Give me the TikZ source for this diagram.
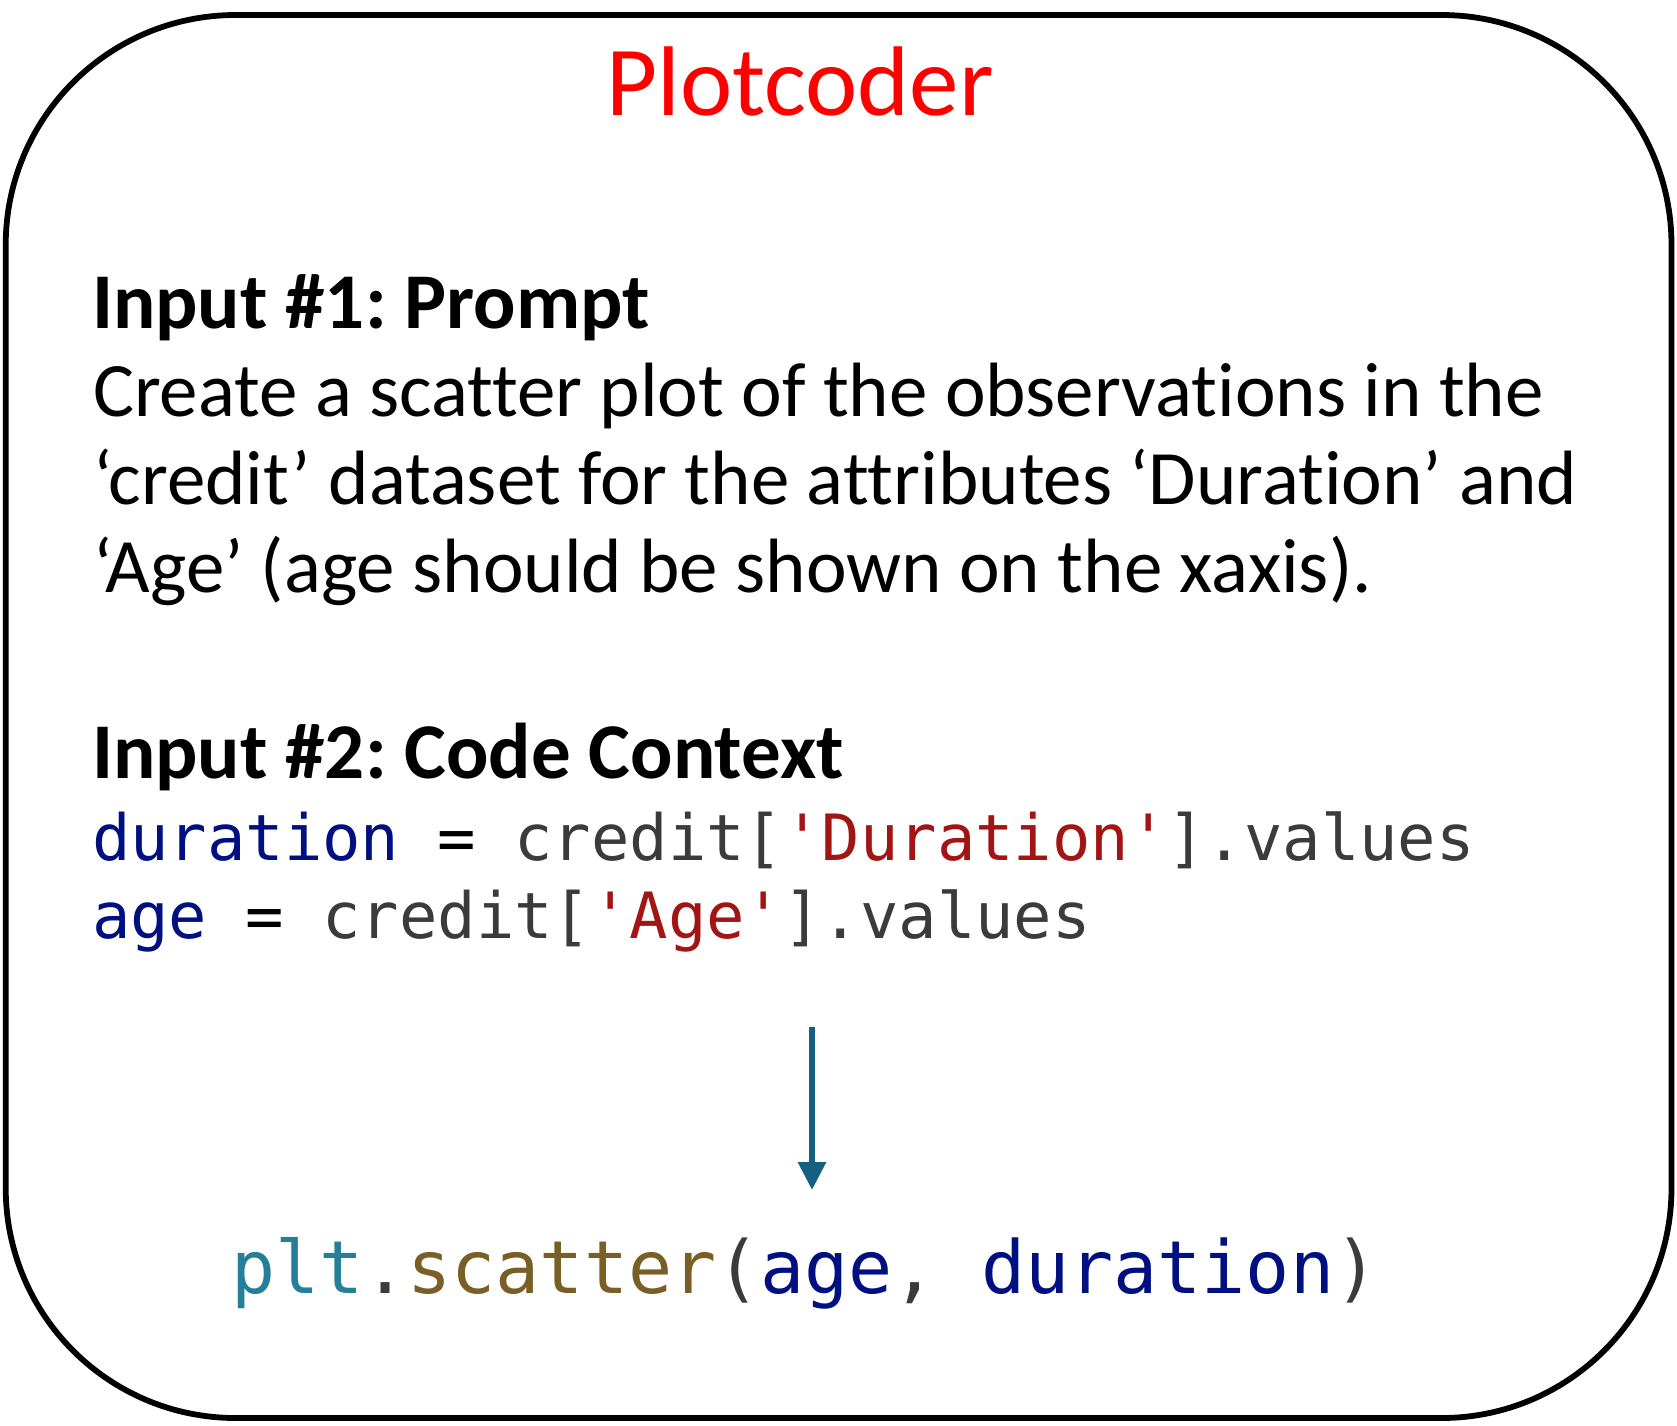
\documentclass[tikz,border=0pt]{standalone}
\usepackage{fontspec}
\setmainfont{Carlito}[Ligatures={TeX,NoCommon}]
\newfontfamily\codefont{DejaVu Sans Mono}[WordSpace={1,0,0}]
\usetikzlibrary{arrows.meta}
\frenchspacing
\definecolor{vvar}{HTML}{001080}
\definecolor{vgray}{HTML}{3B3B3B}
\definecolor{vstr}{HTML}{A31515}
\definecolor{vcls}{HTML}{267F99}
\definecolor{vfun}{HTML}{795E26}
\definecolor{arrowblue}{HTML}{156082}
\definecolor{titlered}{HTML}{FF0000}
\tikzset{
  txt/.style={anchor=base west, inner sep=0pt, outer sep=0pt},
  headtxt/.style={txt, font=\fontsize{79}{92}\selectfont\bfseries},
  bodytxt/.style={txt, font=\fontsize{77}{90}\selectfont},
  codetxt/.style={txt, font=\fontsize{63.8}{76}\codefont},
  bigcode/.style={txt, font=\fontsize{73.3}{86}\codefont},
  flowarrow/.style={draw=arrowblue, line width=6pt, -{Triangle[length=28pt,width=27pt]}},
}
\newcommand{\sq}{\char39}
\begin{document}
\begin{tikzpicture}[x=1pt,y=-1pt]
\useasboundingbox (0,0) rectangle (1677,1425);
\draw[line width=5.8pt, rounded corners=230pt] (5.7,15) rectangle (1671.5,1418);
\node[anchor=base, inner sep=0pt, text=titlered, font=\fontsize{99}{114}\selectfont] (title) at (800,115) {Plotcoder};
\node[headtxt] (h1) at (92,328) {Input \#1: Prompt};
\node[bodytxt] (p1) at (93,416) {Create a scatter plot of the observations in the};
\node[bodytxt] (p2) at (93,504) {‘credit’ dataset for the attributes ‘Duration’ and};
\node[bodytxt] (p3) at (93,592) {‘Age’ (age should be shown on the xaxis).};
\node[headtxt] (h2) at (92,778) {Input \#2: Code Context};
\node[codetxt] (c1) at (92,860) {\textcolor{vvar}{duration} \textcolor{black}{=} \textcolor{vgray}{credit[}\textcolor{vstr}{\sq Duration\sq}\textcolor{vgray}{].values}};
\node[codetxt] (c2) at (92,938) {\textcolor{vvar}{age} \textcolor{black}{=} \textcolor{vgray}{credit[}\textcolor{vstr}{\sq Age\sq}\textcolor{vgray}{].values}};
\coordinate (astart) at (812,1027);
\coordinate (aend) at (812,1190);
\draw[flowarrow] (astart) -- (aend);
\node[bigcode] (out) at (231,1293) {\textcolor{vcls}{plt}\textcolor{vgray}{.}\textcolor{vfun}{scatter}\textcolor{vgray}{(}\textcolor{vvar}{age}\textcolor{vgray}{,} \textcolor{vvar}{duration}\textcolor{vgray}{)}};
\end{tikzpicture}
\end{document}
